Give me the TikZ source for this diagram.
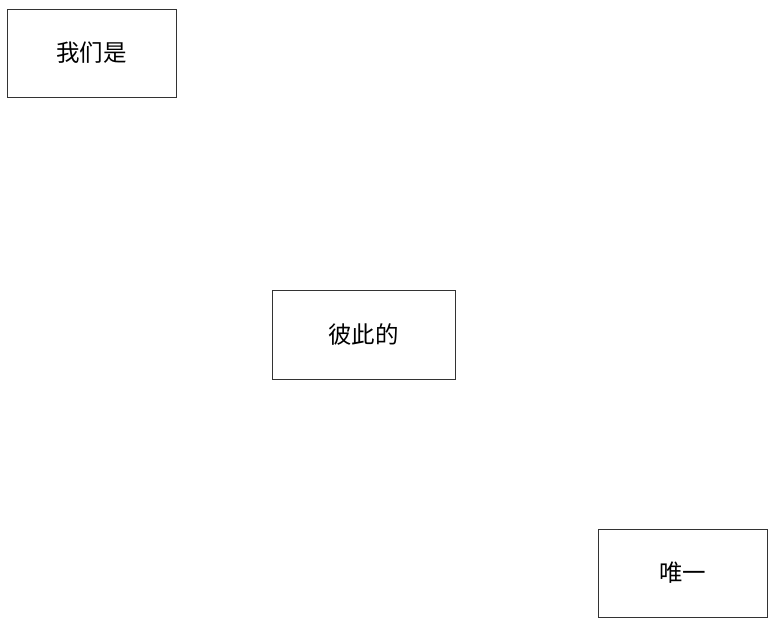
\documentclass[tikz,border=0pt]{standalone}
\usepackage{fontspec}
\newfontfamily\cjk{Noto Sans CJK SC}
\begin{document}
\begin{tikzpicture}[x=1pt,y=-1pt,
  wordbox/.style={draw=black!80, line width=1pt, fill=white, inner sep=0pt, font=\cjk\fontsize{23.5}{28}\selectfont, text=black}]
\useasboundingbox (0,0) rectangle (776,624);
\node[wordbox, minimum width=169pt, minimum height=88pt] (a) at (91.5,53) {我们是};
\node[wordbox, minimum width=183pt, minimum height=89pt] (b) at (363.5,334.5) {彼此的};
\node[wordbox, minimum width=169pt, minimum height=88pt] (c) at (682.5,573) {唯一};
\end{tikzpicture}
\end{document}
